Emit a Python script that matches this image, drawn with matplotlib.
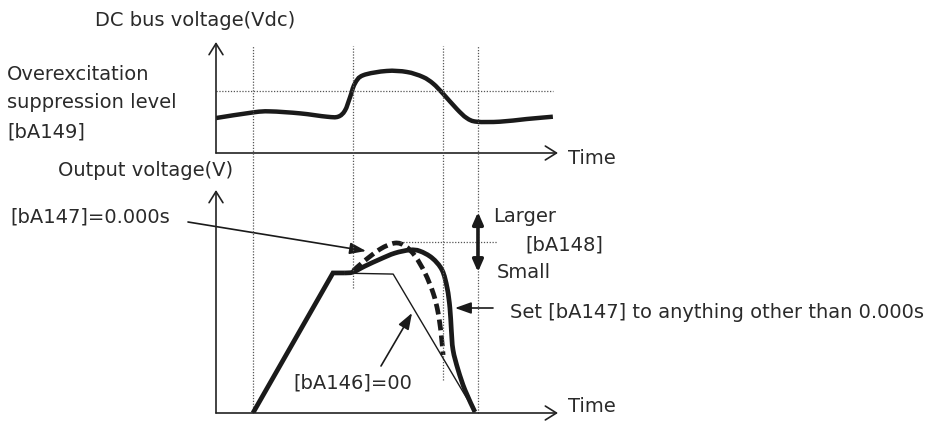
import numpy as np
import matplotlib
matplotlib.use("Agg")
import matplotlib.pyplot as plt
from matplotlib.path import Path
from matplotlib.patches import PathPatch

plt.rcParams['font.family'] = ['DejaVu Sans']

# ---- data (time 0..100, voltage 0..100 in each panel) ----
# DC bus voltage
vdc_t = [0, 10.9, 15.8, 24.6, 32.4, 35.7, 37.7, 39.2, 40.6, 43.0, 49.9, 55.8,
         60.5, 63.5, 66.4, 70.4, 73.3, 76.2, 83.0, 90.8, 98.5]
vdc_v = [31.5, 36.6, 37.5, 35.7, 32.7, 32.7, 38.2, 50.3, 62.5, 70.0, 73.9, 73.0,
         68.5, 62.5, 53.4, 39.7, 31.5, 28.2, 28.2, 30.6, 32.7]
suppression_level = 55.5

# Output voltage: acceleration ramp (shared by all cases)
ramp_t = [10.8, 34.2, 37.7]
ramp_v = [0.0, 62.8, 62.8]
# [bA146]=00: plain trapezoid deceleration
plain_t = [34.2, 51.8, 75.7]
plain_v = [62.8, 62.3, 0.5]
# [bA147] other than 0.000s
slow_t = [37.7, 40.1, 43.6, 48.0, 52.3, 56.7, 59.6, 63.2, 66.1, 67.6, 68.4,
          68.8, 69.3, 70.8, 72.8, 75.7]
slow_v = [62.8, 63.2, 65.9, 69.0, 71.7, 73.1, 72.6, 69.5, 64.1, 56.0, 47.0,
          37.5, 28.3, 19.3, 10.3, 0.5]
# [bA147]=0.000s
fast_t = [40.1, 43.0, 48.0, 52.3, 55.3, 58.2, 61.1, 63.5, 64.9, 65.8, 66.4]
fast_v = [63.7, 67.7, 73.5, 76.2, 74.9, 70.4, 62.8, 53.8, 45.3, 35.9, 26.0]
peak_level = 76.7

# time markers
markers = [10.8, 40.0, 66.4, 76.6]


def smooth_path(t, v):
    pts = np.column_stack([t, v]).astype(float)
    verts = [pts[0]]
    codes = [Path.MOVETO]
    n = len(pts)
    for i in range(n - 1):
        p0 = pts[i - 1] if i > 0 else pts[i]
        p1, p2 = pts[i], pts[i + 1]
        p3 = pts[i + 2] if i + 2 < n else pts[i + 1]
        verts += [p1 + (p2 - p0) / 6, p2 - (p3 - p1) / 6, p2]
        codes += [Path.CURVE4] * 3
    return Path(verts, codes)


W, H = 933, 423
fig = plt.figure(figsize=(W / 100, H / 100), dpi=100)


def box(x0, x1, ytop, ybot):
    return [x0 / W, 1 - ybot / H, (x1 - x0) / W, (ybot - ytop) / H]


over = fig.add_axes([0, 0, 1, 1])
over.set_xlim(0, W)
over.set_ylim(H, 0)
over.axis('off')

ax1 = fig.add_axes(box(216, 558, 42, 153))
ax2 = fig.add_axes(box(216, 558, 190, 413))
for ax in (ax1, ax2):
    ax.set_xlim(0, 100)
    ax.set_ylim(0, 100)
    ax.axis('off')
    ax.patch.set_alpha(0)
    head = '->,head_length=0.4,head_width=0.25'
    ax.annotate('', xy=(0, 1), xytext=(0, 0), xycoords='axes fraction',
                arrowprops=dict(arrowstyle=head, lw=1.2, color='#222',
                                shrinkA=0, shrinkB=0, mutation_scale=20))
    ax.annotate('', xy=(1, 0), xytext=(0, 0), xycoords='axes fraction',
                arrowprops=dict(arrowstyle=head, lw=1.2, color='#222',
                                shrinkA=0, shrinkB=0, mutation_scale=20))

dot = dict(color='#555', lw=0.9, linestyle=(0, (1, 1.3)))

# vertical time markers spanning both panels (drawn in the lower panel)
y_top = (413 - 46) / (413 - 190)
ends = [0, (413 - 288) / 223, (413 - 380) / 223, 0]
for t, e in zip(markers, ends):
    ax2.axvline(t, ymin=e, ymax=y_top, clip_on=False, **dot)

# top panel
ax1.plot([0, 98.5], [suppression_level] * 2, **dot)
ax1.add_patch(PathPatch(smooth_path(vdc_t, vdc_v), fill=False, lw=3.2,
                        color='#1a1a1a', capstyle='butt'))

# bottom panel
ax2.plot([53.8, 82.2], [peak_level] * 2, **dot)
ax2.plot(plain_t, plain_v, color='#1a1a1a', lw=1.0)
ax2.plot(ramp_t, ramp_v, color='#1a1a1a', lw=3.4, solid_joinstyle='miter',
         solid_capstyle='butt')
ax2.add_patch(PathPatch(smooth_path(slow_t, slow_v), fill=False, lw=3.4,
                        color='#1a1a1a', capstyle='butt'))
ax2.add_patch(PathPatch(smooth_path(fast_t, fast_v), fill=False, lw=3.4,
                        color='#1a1a1a', linestyle=(0, (2.3, 1.1)),
                        capstyle='butt'))

# [bA148] range arrow
ax2.annotate('', xy=(76.6, 90.1), xytext=(76.6, 63.2),
             arrowprops=dict(arrowstyle='<|-|>,head_length=0.5,head_width=0.22',
                             lw=2.6, color='#1a1a1a', shrinkA=0, shrinkB=0,
                             mutation_scale=14), annotation_clip=False)

# labels
fs = 14
tc = '#2a2a2a'
over.text(95, 20, 'DC bus voltage(Vdc)', fontsize=fs, color=tc, va='center')
over.text(7, 75, 'Overexcitation', fontsize=fs, color=tc, va='center')
over.text(7, 103, 'suppression level', fontsize=fs, color=tc, va='center')
over.text(7, 132, '[bA149]', fontsize=fs, color=tc, va='center')
over.text(568, 158, 'Time', fontsize=fs, color=tc, va='center')
over.text(58, 170, 'Output voltage(V)', fontsize=fs, color=tc, va='center')
over.text(568, 406, 'Time', fontsize=fs, color=tc, va='center')
over.text(10, 217, '[bA147]=0.000s', fontsize=fs, color=tc, va='center')
over.text(493, 216, 'Larger', fontsize=fs, color=tc, va='center')
over.text(525, 245, '[bA148]', fontsize=fs, color=tc, va='center')
over.text(497, 272, 'Small', fontsize=fs, color=tc, va='center')
over.text(510, 312, 'Set [bA147] to anything other than 0.000s', fontsize=fs,
          color=tc, va='center')
over.text(293, 383, '[bA146]=00', fontsize=fs, color=tc, va='center')

ptr = dict(arrowstyle='-|>,head_length=0.7,head_width=0.25', lw=1.2,
           color='#1a1a1a', shrinkA=0, shrinkB=0, mutation_scale=14)
over.annotate('', xy=(366, 251), xytext=(188, 222), arrowprops=ptr)
over.annotate('', xy=(455, 308), xytext=(493, 308), arrowprops=ptr)
over.annotate('', xy=(412, 313), xytext=(381, 366), arrowprops=ptr)

fig.savefig('out.png', dpi=100)
